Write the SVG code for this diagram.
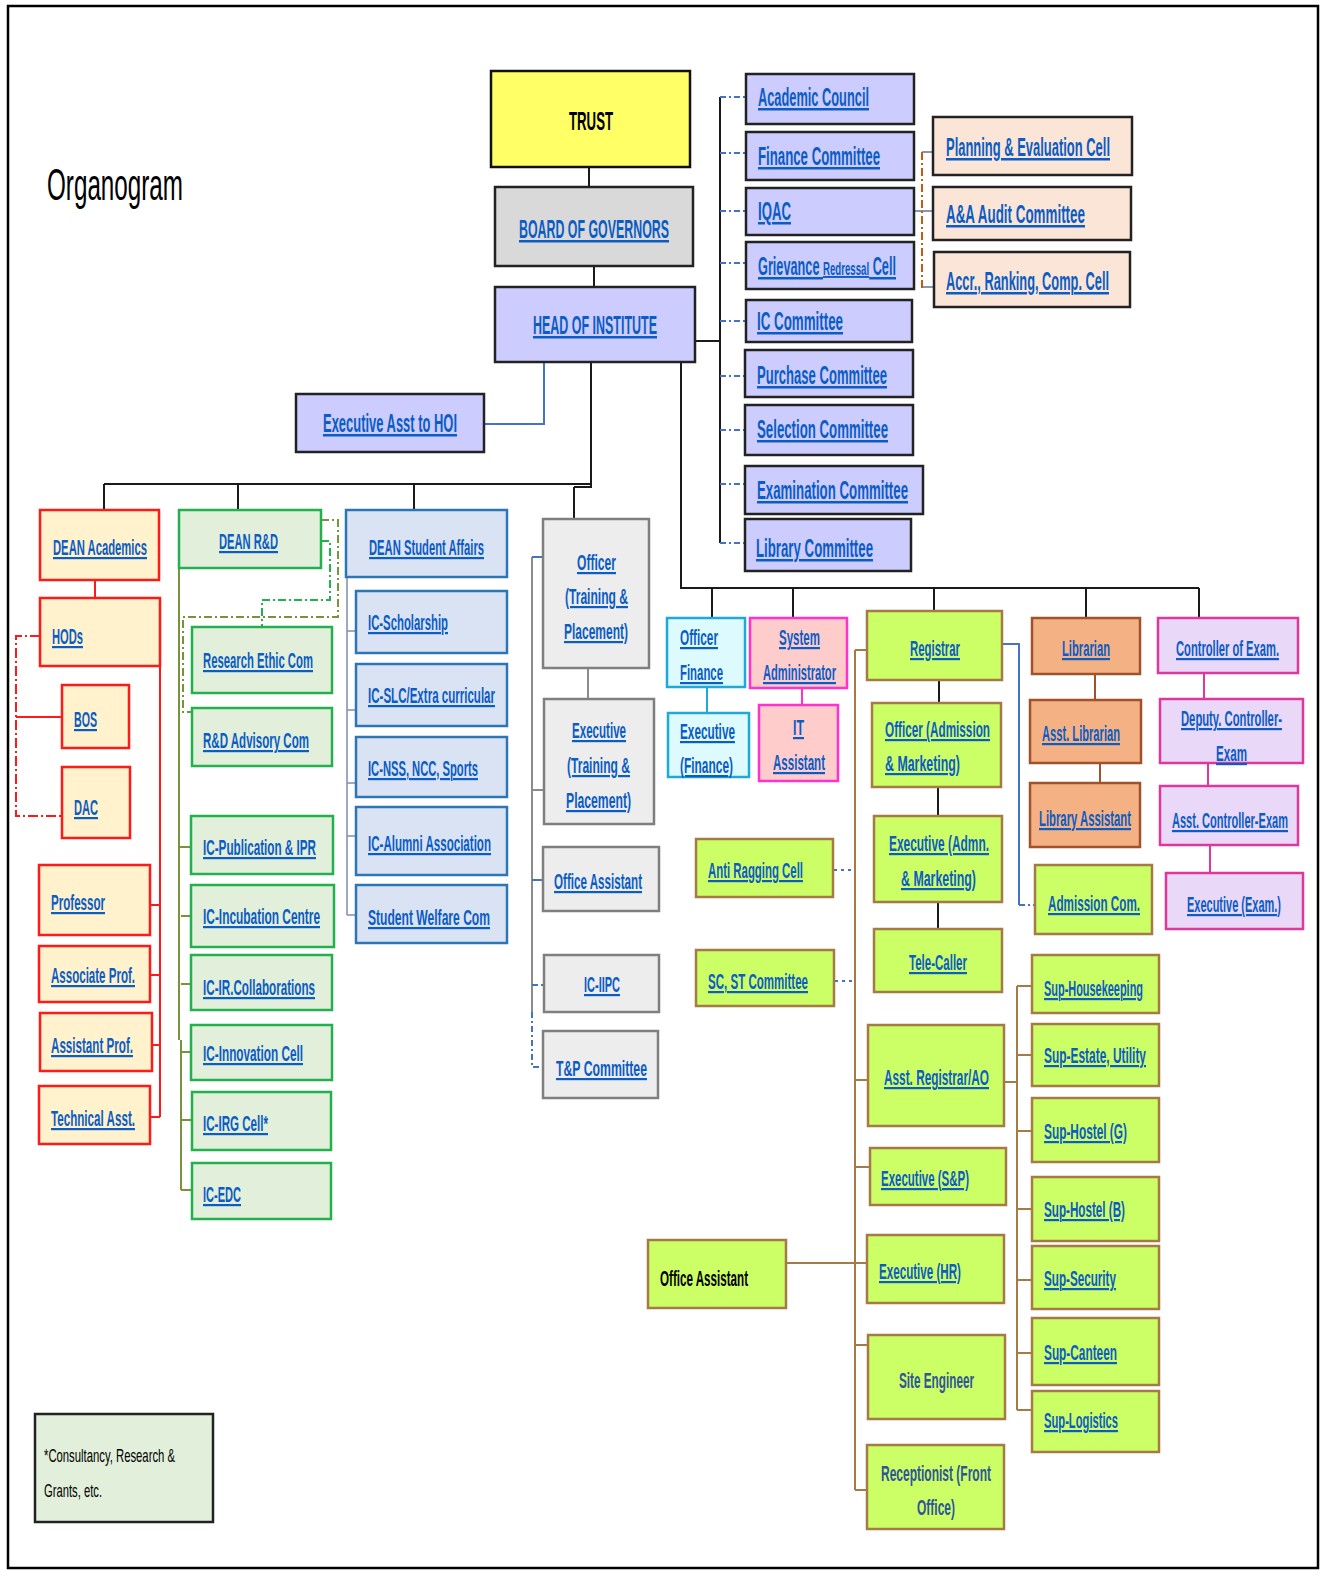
<svg xmlns="http://www.w3.org/2000/svg" width="1334" height="1581" viewBox="0 0 1334 1581">
<defs>
<style>
text{font-family:"Liberation Sans",Arial,sans-serif;font-size:22px;font-weight:bold;fill:#0B5CC4;text-decoration:underline;}
.lg{font-size:25px;}
.bk{fill:#000;text-decoration:none;}
.db{fill:#2F5597;text-decoration:none;}
.yel{fill:#FFFF66;stroke:#111;stroke-width:2.5;}
.gry{fill:#D9D9D9;stroke:#222;stroke-width:2.5;}
.lav{fill:#CCCCFF;stroke:#222;stroke-width:2.5;}
.pch{fill:#FBE5D6;stroke:#222;stroke-width:2.5;}
.red{fill:#FFF2CC;stroke:#FF1A1A;stroke-width:2.5;}
.grn{fill:#E2EFDA;stroke:#22B14C;stroke-width:2.5;}
.blu{fill:#DAE3F3;stroke:#2E75B6;stroke-width:2.5;}
.ofc{fill:#EDEDED;stroke:#7F7F7F;stroke-width:2.5;}
.cyn{fill:#DDFBFF;stroke:#1FA8D8;stroke-width:2.5;}
.pnk{fill:#FFCCCC;stroke:#FF33CC;stroke-width:2.5;}
.lim{fill:#CCFF66;stroke:#A57A45;stroke-width:2.5;}
.org{fill:#F4B183;stroke:#A0522D;stroke-width:2.5;}
.mag{fill:#E9D8F7;stroke:#E0379B;stroke-width:2.5;}
.leg{fill:#E2EFDA;stroke:#222;stroke-width:2.5;}
.c{fill:none;stroke-width:2;}
.k{stroke:#1a1a1a;}
.bd{stroke:#4472C4;stroke-dasharray:6 3 2 3;}
.bs{stroke:#4472C4;}
.gy{stroke:#8497B0;}
.od{stroke:#C55A11;stroke-dasharray:8 3 2 3;}
.r{stroke:#FF1A1A;}
.rd{stroke:#FF1A1A;stroke-dasharray:10 3 2 3;}
.ol{stroke:#77933C;}
.old{stroke:#77933C;stroke-dasharray:8 3 2 3;}
.gd{stroke:#22B14C;stroke-dasharray:8 3 2 3;}
.sb{stroke:#7F8FAF;stroke-width:1.5;}
.g7{stroke:#8C8C8C;}
.cy{stroke:#1FA8D8;}
.mg{stroke:#FF33CC;}
.br{stroke:#A57A45;}
.lb{stroke:#A0522D;}
.cm{stroke:#E0379B;}
.dot{stroke:#4472C4;stroke-dasharray:3 4;}
</style>
</defs>
<rect x="0" y="0" width="1334" height="1581" fill="#fff"/>
<rect x="8" y="6" width="1310" height="1562" fill="none" stroke="#000" stroke-width="2.5"/>
<text x="47" y="200" class="bk" style="font-size:44px;font-weight:normal" textLength="136" lengthAdjust="spacingAndGlyphs">Organogram</text>

<g id="connectors">
<path class="c k" d="M589 167V193M594 266V287M591 362V486M104 484H591M104 484V510M238 484V510M414 484V510M574 487H592M574 487V519"/>
<path class="c bs" d="M544 362V424H484"/>
<path class="c k" d="M695 341H720M720 97V543M681 362V588H1199M712 588V618M793 588V618M934 588V610M1086 588V618M1199 588V618"/>
<path class="c bd" d="M720 97H746M720 153H746M720 211H746M720 263H746M720 321H746M720 376H745M720 430H745M720 484H745M720 543H745"/>
<path class="c gy" d="M914 211H933M922 152H933M922 287H934"/>
<path class="c od" d="M922 152V288"/>
<path class="c r" d="M95 580V598M16 717H62M160 666V1117M150 905H160M150 975H160M152 1045H160M150 1117H160"/>
<path class="c rd" d="M40 636H16V816H62"/>
<path class="c ol" d="M179 568V1040M181 1040V1190M179 847H191M181 916H191M181 984H191M181 1052H191M181 1120H192M181 1190H192"/>
<path class="c old" d="M321 520H338V617H183V712H192"/>
<path class="c gd" d="M321 541H330V600H262V627"/>
<path class="c sb" d="M347 577V915M347 631H356M347 710H356M347 783H356M347 836H356M347 915H356"/>
<path class="c g7" d="M588 668V699M532 557V1012"/>
<path class="c g7" d="M532 790H544"/>
<path class="c bs" d="M532 557H543M532 880H543"/>
<path class="c bd" d="M532 985H544M532 1012V1067H543"/>
<path class="c cy" d="M707 687V713"/>
<path class="c mg" d="M802 688V705"/>
<path class="c k" d="M939 676V712M938 786V824M938 900V931"/>
<path class="c dot" d="M834 870H852M835 981H852"/>
<path class="c br" d="M855 650V1490M855 650H867M855 1080H868M855 1167H870M855 1263H867M855 1345H868M855 1490H867M786 1263H855"/>
<path class="c bs" d="M1002 644H1019V905"/>
<path class="c bd" d="M1019 905H1035"/>
<path class="c lb" d="M1095 674V700M1100 757V783"/>
<path class="c cm" d="M1204 673V699M1208 755V786M1210 845V873"/>
<path class="c br" d="M1004 1082H1017M1017 986V1410M1017 986H1032M1017 1055H1032M1017 1131H1032M1017 1209H1032M1017 1280H1032M1017 1353H1032M1017 1410H1032"/>
</g>

<g id="trust"><rect class="yel" x="491" y="71" width="199" height="96"/><text x="569" y="130" class="bk" style="font-size:26px" textLength="44" lengthAdjust="spacingAndGlyphs">TRUST</text></g>
<g id="bog"><rect class="gry" x="495" y="187" width="198" height="79"/><text x="519" y="238" class="lg" textLength="150" lengthAdjust="spacingAndGlyphs">BOARD OF GOVERNORS</text></g>
<g id="hoi"><rect class="lav" x="495" y="287" width="200" height="75"/><text x="533" y="334" class="lg" textLength="124" lengthAdjust="spacingAndGlyphs">HEAD OF INSTITUTE</text></g>
<g id="eahoi"><rect class="lav" x="296" y="394" width="188" height="58"/><text x="323" y="432" class="lg" textLength="134" lengthAdjust="spacingAndGlyphs">Executive Asst to HOI</text></g>

<g id="academic-council"><rect class="lav" x="746" y="74" width="168" height="50"/><text x="758" y="106" class="lg" textLength="111" lengthAdjust="spacingAndGlyphs">Academic Council</text></g>
<g id="finance-committee"><rect class="lav" x="746" y="132" width="168" height="48"/><text x="758" y="165" class="lg" textLength="122" lengthAdjust="spacingAndGlyphs">Finance Committee</text></g>
<g id="iqac"><rect class="lav" x="746" y="188" width="168" height="47"/><text x="758" y="220" class="lg" textLength="33" lengthAdjust="spacingAndGlyphs">IQAC</text></g>
<g id="grievance"><rect class="lav" x="746" y="242" width="168" height="47"/><text x="758" y="275" class="lg" textLength="138" lengthAdjust="spacingAndGlyphs">Grievance <tspan style="font-size:19px">Redressal</tspan> Cell</text></g>
<g id="ic-committee"><rect class="lav" x="746" y="300" width="166" height="42"/><text x="757" y="330" class="lg" textLength="86" lengthAdjust="spacingAndGlyphs">IC Committee</text></g>
<g id="purchase"><rect class="lav" x="745" y="350" width="168" height="47"/><text x="757" y="384" class="lg" textLength="130" lengthAdjust="spacingAndGlyphs">Purchase Committee</text></g>
<g id="selection"><rect class="lav" x="745" y="405" width="168" height="50"/><text x="757" y="438" class="lg" textLength="131" lengthAdjust="spacingAndGlyphs">Selection Committee</text></g>
<g id="examination"><rect class="lav" x="745" y="466" width="178" height="48"/><text x="757" y="499" class="lg" textLength="151" lengthAdjust="spacingAndGlyphs">Examination Committee</text></g>
<g id="library-committee"><rect class="lav" x="745" y="519" width="166" height="52"/><text x="756" y="557" class="lg" textLength="117" lengthAdjust="spacingAndGlyphs">Library Committee</text></g>

<g id="planning"><rect class="pch" x="933" y="117" width="199" height="58"/><text x="946" y="156" class="lg" textLength="164" lengthAdjust="spacingAndGlyphs">Planning &amp; Evaluation Cell</text></g>
<g id="audit"><rect class="pch" x="933" y="187" width="198" height="53"/><text x="946" y="223" class="lg" textLength="139" lengthAdjust="spacingAndGlyphs">A&amp;A Audit Committee</text></g>
<g id="accr"><rect class="pch" x="934" y="252" width="196" height="55"/><text x="946" y="290" class="lg" textLength="163" lengthAdjust="spacingAndGlyphs">Accr., Ranking, Comp. Cell</text></g>

<g id="dean-academics"><rect class="red" x="40" y="510" width="119" height="70"/><text x="53" y="555" textLength="94" lengthAdjust="spacingAndGlyphs">DEAN Academics</text></g>
<g id="hods"><rect class="red" x="40" y="598" width="120" height="68"/><text x="52" y="644" textLength="31" lengthAdjust="spacingAndGlyphs">HODs</text></g>
<g id="bos"><rect class="red" x="62" y="685" width="67" height="63"/><text x="74" y="727" textLength="23" lengthAdjust="spacingAndGlyphs">BOS</text></g>
<g id="dac"><rect class="red" x="62" y="767" width="68" height="71"/><text x="74" y="815" textLength="24" lengthAdjust="spacingAndGlyphs">DAC</text></g>
<g id="professor"><rect class="red" x="39" y="865" width="111" height="70"/><text x="51" y="910" textLength="54" lengthAdjust="spacingAndGlyphs">Professor</text></g>
<g id="assoc-prof"><rect class="red" x="39" y="946" width="111" height="56"/><text x="51" y="983" textLength="84" lengthAdjust="spacingAndGlyphs">Associate Prof.</text></g>
<g id="asst-prof"><rect class="red" x="40" y="1013" width="112" height="58"/><text x="51" y="1053" textLength="82" lengthAdjust="spacingAndGlyphs">Assistant Prof.</text></g>
<g id="tech-asst"><rect class="red" x="39" y="1086" width="111" height="58"/><text x="51" y="1126" textLength="84" lengthAdjust="spacingAndGlyphs">Technical Asst.</text></g>

<g id="dean-rd"><rect class="grn" x="179" y="510" width="142" height="58"/><text x="219" y="549" textLength="59" lengthAdjust="spacingAndGlyphs">DEAN R&amp;D</text></g>
<g id="research-ethic"><rect class="grn" x="192" y="627" width="140" height="66"/><text x="203" y="668" textLength="110" lengthAdjust="spacingAndGlyphs">Research Ethic Com</text></g>
<g id="rd-advisory"><rect class="grn" x="192" y="708" width="140" height="58"/><text x="203" y="748" textLength="106" lengthAdjust="spacingAndGlyphs">R&amp;D Advisory Com</text></g>
<g id="ic-publication"><rect class="grn" x="191" y="816" width="142" height="58"/><text x="203" y="855" textLength="113" lengthAdjust="spacingAndGlyphs">IC-Publication &amp; IPR</text></g>
<g id="ic-incubation"><rect class="grn" x="191" y="885" width="143" height="62"/><text x="203" y="924" textLength="117" lengthAdjust="spacingAndGlyphs">IC-Incubation Centre</text></g>
<g id="ic-ir"><rect class="grn" x="191" y="955" width="141" height="55"/><text x="203" y="995" textLength="112" lengthAdjust="spacingAndGlyphs">IC-IR.Collaborations</text></g>
<g id="ic-innovation"><rect class="grn" x="191" y="1025" width="141" height="55"/><text x="203" y="1061" textLength="100" lengthAdjust="spacingAndGlyphs">IC-Innovation Cell</text></g>
<g id="ic-irg"><rect class="grn" x="192" y="1092" width="139" height="58"/><text x="203" y="1131" textLength="65" lengthAdjust="spacingAndGlyphs">IC-IRG Cell*</text></g>
<g id="ic-edc"><rect class="grn" x="192" y="1163" width="139" height="56"/><text x="203" y="1202" textLength="38" lengthAdjust="spacingAndGlyphs">IC-EDC</text></g>

<g id="dean-sa"><rect class="blu" x="346" y="510" width="161" height="67"/><text x="369" y="555" textLength="115" lengthAdjust="spacingAndGlyphs">DEAN Student Affairs</text></g>
<g id="ic-scholarship"><rect class="blu" x="356" y="591" width="151" height="62"/><text x="368" y="630" textLength="80" lengthAdjust="spacingAndGlyphs">IC-Scholarship</text></g>
<g id="ic-slc"><rect class="blu" x="356" y="664" width="151" height="62"/><text x="368" y="703" textLength="127" lengthAdjust="spacingAndGlyphs">IC-SLC/Extra curricular</text></g>
<g id="ic-nss"><rect class="blu" x="356" y="737" width="151" height="60"/><text x="368" y="776" textLength="110" lengthAdjust="spacingAndGlyphs">IC-NSS, NCC, Sports</text></g>
<g id="ic-alumni"><rect class="blu" x="356" y="807" width="151" height="68"/><text x="368" y="851" textLength="123" lengthAdjust="spacingAndGlyphs">IC-Alumni Association</text></g>
<g id="student-welfare"><rect class="blu" x="356" y="885" width="151" height="58"/><text x="368" y="925" textLength="122" lengthAdjust="spacingAndGlyphs">Student Welfare Com</text></g>

<g id="officer-tp"><rect class="ofc" x="543" y="519" width="106" height="149"/><text x="577" y="570" textLength="39" lengthAdjust="spacingAndGlyphs">Officer</text><text x="565" y="604" textLength="63" lengthAdjust="spacingAndGlyphs">(Training &amp;</text><text x="564" y="639" textLength="64" lengthAdjust="spacingAndGlyphs">Placement)</text></g>
<g id="exec-tp"><rect class="ofc" x="544" y="699" width="110" height="125"/><text x="572" y="738" textLength="54" lengthAdjust="spacingAndGlyphs">Executive</text><text x="567" y="773" textLength="63" lengthAdjust="spacingAndGlyphs">(Training &amp;</text><text x="566" y="808" textLength="65" lengthAdjust="spacingAndGlyphs">Placement)</text></g>
<g id="office-asst-tp"><rect class="ofc" x="543" y="847" width="116" height="64"/><text x="554" y="889" textLength="88" lengthAdjust="spacingAndGlyphs">Office Assistant</text></g>
<g id="ic-iipc"><rect class="ofc" x="544" y="955" width="115" height="57"/><text x="584" y="992" textLength="36" lengthAdjust="spacingAndGlyphs">IC-IIPC</text></g>
<g id="tp-committee"><rect class="ofc" x="543" y="1031" width="115" height="67"/><text x="556" y="1076" textLength="91" lengthAdjust="spacingAndGlyphs">T&amp;P Committee</text></g>

<g id="officer-finance"><rect class="cyn" x="667" y="618" width="78" height="69"/><text x="680" y="645" textLength="38" lengthAdjust="spacingAndGlyphs">Officer</text><text x="680" y="680" textLength="43" lengthAdjust="spacingAndGlyphs">Finance</text></g>
<g id="exec-finance"><rect class="cyn" x="668" y="713" width="81" height="64"/><text x="680" y="739" textLength="55" lengthAdjust="spacingAndGlyphs">Executive</text><text x="680" y="773" textLength="53" lengthAdjust="spacingAndGlyphs">(Finance)</text></g>
<g id="sys-admin"><rect class="pnk" x="750" y="618" width="97" height="70"/><text x="779" y="645" textLength="41" lengthAdjust="spacingAndGlyphs">System</text><text x="763" y="680" textLength="73" lengthAdjust="spacingAndGlyphs">Administrator</text></g>
<g id="it-asst"><rect class="pnk" x="759" y="705" width="79" height="76"/><text x="793" y="735" textLength="11" lengthAdjust="spacingAndGlyphs">IT</text><text x="773" y="770" textLength="52" lengthAdjust="spacingAndGlyphs">Assistant</text></g>

<g id="registrar"><rect class="lim" x="867" y="611" width="135" height="69"/><text x="910" y="656" textLength="50" lengthAdjust="spacingAndGlyphs">Registrar</text></g>
<g id="officer-adm"><rect class="lim" x="872" y="703" width="129" height="84"/><text x="885" y="737" textLength="105" lengthAdjust="spacingAndGlyphs">Officer (Admission</text><text x="885" y="771" textLength="75" lengthAdjust="spacingAndGlyphs">&amp; Marketing)</text></g>
<g id="exec-adm"><rect class="lim" x="874" y="816" width="128" height="86"/><text x="889" y="851" textLength="100" lengthAdjust="spacingAndGlyphs">Executive (Admn.</text><text x="901" y="886" textLength="75" lengthAdjust="spacingAndGlyphs">&amp; Marketing)</text></g>
<g id="tele-caller"><rect class="lim" x="874" y="929" width="128" height="63"/><text x="909" y="970" textLength="58" lengthAdjust="spacingAndGlyphs">Tele-Caller</text></g>
<g id="anti-ragging"><rect class="lim" x="696" y="839" width="137" height="58"/><text x="708" y="878" textLength="95" lengthAdjust="spacingAndGlyphs">Anti Ragging Cell</text></g>
<g id="sc-st"><rect class="lim" x="696" y="950" width="138" height="56"/><text x="708" y="989" textLength="100" lengthAdjust="spacingAndGlyphs">SC, ST Committee</text></g>
<g id="asst-registrar"><rect class="lim" x="868" y="1025" width="136" height="101"/><text x="884" y="1085" textLength="105" lengthAdjust="spacingAndGlyphs">Asst. Registrar/AO</text></g>
<g id="exec-sp"><rect class="lim" x="870" y="1148" width="136" height="57"/><text x="881" y="1186" textLength="88" lengthAdjust="spacingAndGlyphs">Executive (S&amp;P)</text></g>
<g id="exec-hr"><rect class="lim" x="867" y="1235" width="137" height="68"/><text x="879" y="1279" textLength="82" lengthAdjust="spacingAndGlyphs">Executive (HR)</text></g>
<g id="site-engineer"><rect class="lim" x="868" y="1335" width="137" height="84"/><text x="899" y="1388" class="db" textLength="75" lengthAdjust="spacingAndGlyphs">Site Engineer</text></g>
<g id="receptionist"><rect class="lim" x="867" y="1445" width="137" height="84"/><text x="881" y="1481" class="db" textLength="110" lengthAdjust="spacingAndGlyphs">Receptionist (Front</text><text x="917" y="1515" class="db" textLength="38" lengthAdjust="spacingAndGlyphs">Office)</text></g>
<g id="office-asst"><rect class="lim" x="648" y="1240" width="138" height="68"/><text x="660" y="1286" class="bk" textLength="88" lengthAdjust="spacingAndGlyphs">Office Assistant</text></g>

<g id="librarian"><rect class="org" x="1032" y="618" width="108" height="56"/><text x="1062" y="656" textLength="48" lengthAdjust="spacingAndGlyphs">Librarian</text></g>
<g id="asst-librarian"><rect class="org" x="1030" y="700" width="111" height="63"/><text x="1042" y="741" textLength="78" lengthAdjust="spacingAndGlyphs">Asst. Librarian</text></g>
<g id="library-asst"><rect class="org" x="1030" y="783" width="110" height="64"/><text x="1039" y="826" textLength="92" lengthAdjust="spacingAndGlyphs">Library Assistant</text></g>
<g id="admission-com"><rect class="lim" x="1035" y="865" width="117" height="69"/><text x="1048" y="911" textLength="92" lengthAdjust="spacingAndGlyphs">Admission Com.</text></g>

<g id="controller"><rect class="mag" x="1158" y="618" width="140" height="55"/><text x="1176" y="656" textLength="103" lengthAdjust="spacingAndGlyphs">Controller of Exam.</text></g>
<g id="deputy-controller"><rect class="mag" x="1160" y="699" width="143" height="64"/><text x="1181" y="726" textLength="101" lengthAdjust="spacingAndGlyphs">Deputy. Controller-</text><text x="1216" y="761" textLength="31" lengthAdjust="spacingAndGlyphs">Exam</text></g>
<g id="asst-controller"><rect class="mag" x="1160" y="786" width="138" height="59"/><text x="1172" y="828" textLength="116" lengthAdjust="spacingAndGlyphs">Asst. Controller-Exam</text></g>
<g id="exec-exam"><rect class="mag" x="1166" y="873" width="137" height="56"/><text x="1187" y="912" textLength="94" lengthAdjust="spacingAndGlyphs">Executive (Exam.)</text></g>

<g id="sup-housekeeping"><rect class="lim" x="1032" y="955" width="127" height="58"/><text x="1044" y="996" textLength="99" lengthAdjust="spacingAndGlyphs">Sup-Housekeeping</text></g>
<g id="sup-estate"><rect class="lim" x="1032" y="1024" width="127" height="62"/><text x="1044" y="1063" textLength="102" lengthAdjust="spacingAndGlyphs">Sup-Estate, Utility</text></g>
<g id="sup-hostel-g"><rect class="lim" x="1032" y="1098" width="127" height="64"/><text x="1044" y="1139" textLength="83" lengthAdjust="spacingAndGlyphs">Sup-Hostel (G)</text></g>
<g id="sup-hostel-b"><rect class="lim" x="1032" y="1177" width="127" height="64"/><text x="1044" y="1217" textLength="81" lengthAdjust="spacingAndGlyphs">Sup-Hostel (B)</text></g>
<g id="sup-security"><rect class="lim" x="1032" y="1246" width="127" height="63"/><text x="1044" y="1286" textLength="72" lengthAdjust="spacingAndGlyphs">Sup-Security</text></g>
<g id="sup-canteen"><rect class="lim" x="1032" y="1318" width="127" height="67"/><text x="1044" y="1360" textLength="73" lengthAdjust="spacingAndGlyphs">Sup-Canteen</text></g>
<g id="sup-logistics"><rect class="lim" x="1032" y="1391" width="127" height="61"/><text x="1044" y="1428" textLength="74" lengthAdjust="spacingAndGlyphs">Sup-Logistics</text></g>

<g id="legend"><rect class="leg" x="35" y="1414" width="178" height="108"/><text x="44" y="1462" class="bk" style="font-size:19px;font-weight:normal" textLength="131" lengthAdjust="spacingAndGlyphs">*Consultancy, Research &amp;</text><text x="44" y="1497" class="bk" style="font-size:19px;font-weight:normal" textLength="58" lengthAdjust="spacingAndGlyphs">Grants, etc.</text></g>
</svg>
